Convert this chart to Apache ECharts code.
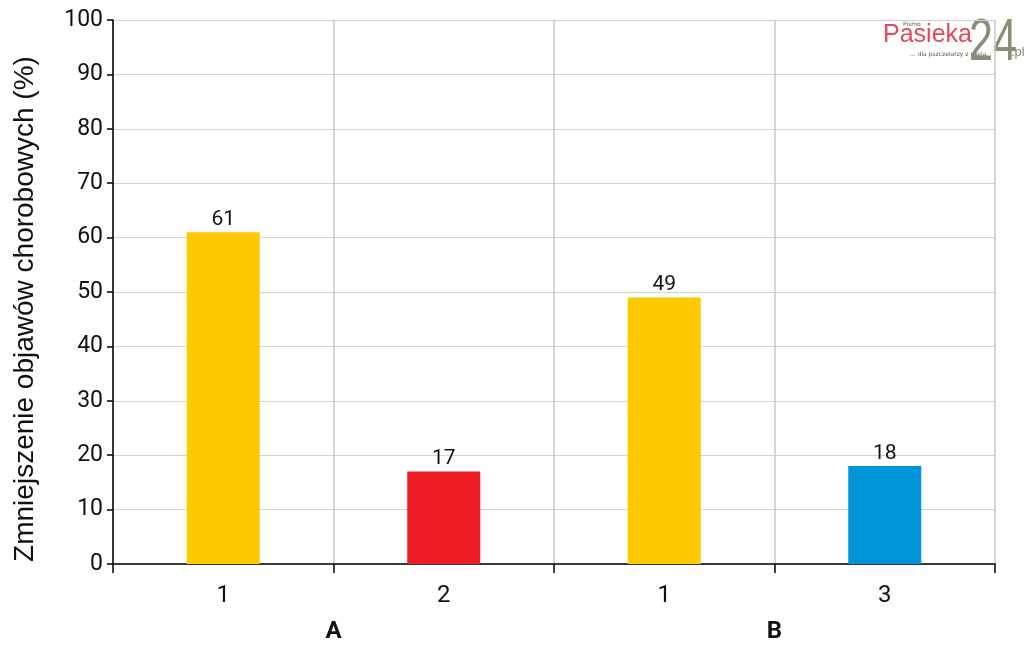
<!DOCTYPE html>
<html>
<head>
<meta charset="utf-8">
<script src="https://cdn.jsdelivr.net/npm/echarts@6/dist/echarts.min.js"></script>
<style>
html,body{margin:0;padding:0;background:#fff;}
#chart{width:1024px;height:650px;}
</style>
</head>
<body>
<div id="chart"></div>
<script>
// Data
var categories = ['1', '2', '1', '3'];
var groups = ['A', 'B'];
var values = [61, 17, 49, 18];
var yTicks = { min: 0, max: 100, interval: 10 };
var yTitle = 'Zmniejszenie objawów chorobowych (%)';

// Style
var barColors = ['#FDCA00', '#ED1C24', '#FDCA00', '#0094D8'];
var FONT = 'Roboto';

var chart = echarts.init(document.getElementById('chart'));
chart.setOption({
  animation: false,
  textStyle: { fontFamily: FONT },
  grid: { left: 113, right: 29, top: 20, bottom: 86, containLabel: false },
  xAxis: [
    {
      type: 'category',
      data: categories,
      position: 'bottom',
      axisLine: { show: true, lineStyle: { color: '#000', width: 1.5 } },
      axisTick: { show: true, length: 9, lineStyle: { color: '#000', width: 1.5 } },
      axisLabel: { color: '#111', fontSize: 24, fontFamily: FONT, margin: 20 },
      splitLine: { show: true, lineStyle: { color: '#c8c8c8', width: 1.5 } }
    },
    {
      type: 'category',
      data: groups,
      position: 'bottom',
      offset: 38,
      axisLine: { show: false },
      axisTick: { show: false },
      splitLine: { show: false },
      axisLabel: { color: '#111', fontSize: 24, fontWeight: 'bold', fontFamily: FONT, margin: 18 }
    }
  ],
  yAxis: {
    type: 'value',
    min: yTicks.min,
    max: yTicks.max,
    interval: yTicks.interval,
    name: yTitle,
    nameLocation: 'middle',
    nameGap: 74,
    nameTextStyle: {
      color: '#111',
      fontSize: 28,
      fontFamily: '"Liberation Sans", Arial, sans-serif',
      padding: [0, 34, 0, 0]
    },
    axisLine: { show: true, lineStyle: { color: '#000', width: 1.5 } },
    axisTick: { show: true, length: 6, lineStyle: { color: '#000', width: 1.5 } },
    axisLabel: { color: '#111', fontSize: 23, fontFamily: FONT, margin: 10 },
    splitLine: { show: true, lineStyle: { color: '#d4d4d4', width: 1.2 } }
  },
  series: [
    {
      type: 'bar',
      xAxisIndex: 0,
      data: values,
      barWidth: 73,
      itemStyle: {
        color: function (p) { return barColors[p.dataIndex]; }
      },
      label: {
        show: true,
        position: 'top',
        distance: 2,
        color: '#111',
        fontSize: 21,
        fontFamily: FONT
      }
    }
  ],
  graphic: [
    { type: 'text', x: 883, y: 23, style: { text: 'Pasieka', fill: '#E4495A', font: '25px "Liberation Sans", sans-serif' } },
    { type: 'text', x: 903, y: 21, style: { text: 'Pismo', fill: '#555', font: '6px "DejaVu Sans", sans-serif' } },
    { type: 'text', x: 910, y: 51, style: { text: '... dla pszczelarzy z pasją', fill: '#555', font: '6px "DejaVu Sans", sans-serif' } },
    { type: 'text', x: 969, y: 13, scaleX: 0.72, style: { text: '24', fill: '#8C8C78', font: '60px "Liberation Sans", sans-serif' } },
    { type: 'text', x: 1011, y: 46, style: { text: '.pl', fill: '#8C8C78', font: '13px "Liberation Sans", sans-serif' } }
  ]
});
</script>
</body>
</html>
